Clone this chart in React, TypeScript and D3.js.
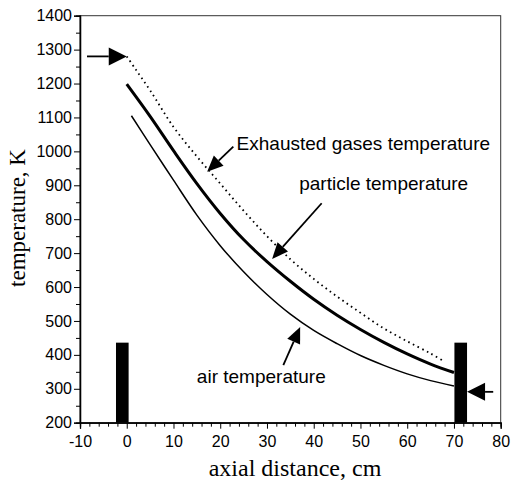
import React, { useRef, useEffect } from 'react';
import * as d3 from 'd3';

// axial distance (cm) vs temperature (K)
const gasX = [0, 2, 5, 10, 15, 20, 25, 30, 35, 40, 45, 50, 55, 60, 65, 68];
const gasT = [1280, 1240, 1180, 1072, 985, 905, 825, 750, 682, 624, 572, 524, 478, 440, 404, 380];

const particleX = [0, 5, 10, 15, 20, 25, 30, 35, 40, 45, 50, 55, 60, 65, 70];
const particleT = [1198, 1103, 1002, 905, 817, 740, 675, 617, 564, 517, 475, 437, 403, 373, 348];

const airX = [1, 5, 10, 15, 20, 25, 30, 35, 40, 45, 50, 55, 60, 65, 70];
const airT = [1105, 1020, 915, 812, 722, 645, 578, 520, 472, 433, 398, 369, 344, 324, 308];

// reactor walls (x from, x to, height)
const walls = [
  { x0: -2.3, x1: 0.4, top: 436 },
  { x0: 70.1, x1: 72.8, top: 436 },
];

const xTicks = [-10, 0, 10, 20, 30, 40, 50, 60, 70, 80];
const yTicks = [200, 300, 400, 500, 600, 700, 800, 900, 1000, 1100, 1200, 1300, 1400];

// label position and arrow from (ax, ay) to (tx, ty), in data units
const labels = [
  { text: 'Exhausted gases temperature', x: 23.5, y: 1005, ax: 22.8, ay: 1014, tx: 17.2, ty: 940 },
  { text: 'particle temperature', x: 36.9, y: 885, ax: 41.7, ay: 847, tx: 31.1, ty: 683 },
  { text: 'air temperature', x: 15.0, y: 318, ax: 33.5, ay: 370, tx: 37.1, ty: 482 },
];

// inlet gas / outlet air arrows
const flowArrows = [
  { ax: -8.5, ay: 1280, tx: 0, ty: 1280 },
  { ax: 78.4, ay: 291, tx: 72.8, ty: 291 },
];

function App() {
  const chartRef = useRef<SVGSVGElement>(null);

  useEffect(() => {
    const svg = d3.select(chartRef.current);
    svg.selectAll('*').remove();

    const width = 513, height = 482;
    svg.attr('width', width).attr('height', height);

    const x = d3.scaleLinear().domain([-10, 80]).range([80, 500.7]);
    const y = d3.scaleLinear().domain([200, 1400]).range([422.7, 15.7]);
    const sans = 'Liberation Sans, Arial, sans-serif';
    const serif = 'Liberation Serif, Times New Roman, serif';

    // line + filled triangular head
    const arrow = (x1: number, y1: number, x2: number, y2: number, len: number, half: number) => {
      const a = Math.atan2(y2 - y1, x2 - x1);
      const bx = x2 - len * Math.cos(a), by = y2 - len * Math.sin(a);
      svg.append('line')
        .attr('x1', x1).attr('y1', y1).attr('x2', bx).attr('y2', by)
        .attr('stroke', '#000').attr('stroke-width', 1.8);
      const px = -Math.sin(a) * half, py = Math.cos(a) * half;
      svg.append('path')
        .attr('d', `M${x2},${y2}L${bx + px},${by + py}L${bx - px},${by - py}Z`)
        .attr('fill', '#000');
    };

    // frame
    svg.append('rect')
      .attr('x', x(-10)).attr('y', y(1400))
      .attr('width', x(80) - x(-10)).attr('height', y(200) - y(1400))
      .attr('fill', 'none').attr('stroke', '#333').attr('stroke-width', 1);

    // axes
    const xMinor = d3.range(-10, 81, 2).filter((v) => v % 10 !== 0);
    const yMinor = d3.range(250, 1400, 100);

    const gx = svg.append('g').attr('transform', `translate(0,${y(200)})`);
    gx.call(d3.axisBottom(x).tickValues(xMinor).tickSize(4).tickFormat(() => ''));
    gx.append('g').call(d3.axisBottom(x).tickValues(xTicks).tickSize(6).tickPadding(7).tickFormat((d) => String(d)));
    gx.selectAll('.domain').attr('stroke', '#000').attr('stroke-width', 1.3);
    gx.selectAll('text').attr('font-family', sans).attr('font-size', 16).attr('fill', '#000');

    const gy = svg.append('g').attr('transform', `translate(${x(-10)},0)`);
    gy.call(d3.axisLeft(y).tickValues(yMinor).tickSize(4).tickFormat(() => ''));
    gy.append('g').call(d3.axisLeft(y).tickValues(yTicks).tickSize(6).tickPadding(2).tickFormat((d) => String(d)));
    gy.selectAll('.domain').attr('stroke', '#000').attr('stroke-width', 1.3);
    gy.selectAll('text').attr('font-family', sans).attr('font-size', 16).attr('fill', '#000');

    // walls
    svg.selectAll('.wall').data(walls).enter().append('rect')
      .attr('x', (d) => x(d.x0)).attr('y', (d) => y(d.top))
      .attr('width', (d) => x(d.x1) - x(d.x0)).attr('height', (d) => y(200) - y(d.top))
      .attr('fill', '#000');

    const line = d3.line<[number, number]>()
      .x((d) => x(d[0]))
      .y((d) => y(d[1]))
      .curve(d3.curveCatmullRom.alpha(0.5));

    svg.append('path')
      .datum(gasX.map((v, i) => [v, gasT[i]] as [number, number]))
      .attr('fill', 'none').attr('stroke', '#000')
      .attr('stroke-width', 1.8).attr('stroke-dasharray', '1.6,3.6')
      .attr('d', line);

    svg.append('path')
      .datum(particleX.map((v, i) => [v, particleT[i]] as [number, number]))
      .attr('fill', 'none').attr('stroke', '#000').attr('stroke-width', 3)
      .attr('d', line);

    svg.append('path')
      .datum(airX.map((v, i) => [v, airT[i]] as [number, number]))
      .attr('fill', 'none').attr('stroke', '#000').attr('stroke-width', 1.5)
      .attr('d', line);

    flowArrows.forEach((f) => arrow(x(f.ax), y(f.ay), x(f.tx), y(f.ty), 18, 9));

    // annotations
    labels.forEach((l) => {
      svg.append('text')
        .attr('x', x(l.x)).attr('y', y(l.y))
        .attr('font-family', sans).attr('font-size', 19)
        .text(l.text);
      arrow(x(l.ax), y(l.ay), x(l.tx), y(l.ty), 16, 7);
    });

    svg.append('text')
      .attr('x', 295).attr('y', 476)
      .attr('text-anchor', 'middle')
      .attr('font-family', serif).attr('font-size', 24)
      .text('axial distance, cm');

    svg.append('text')
      .attr('transform', 'rotate(-90)')
      .attr('x', -218).attr('y', 25)
      .attr('text-anchor', 'middle')
      .attr('font-family', serif).attr('font-size', 23)
      .text('temperature, K');
  }, []);

  return <svg ref={chartRef} style={{ position: 'absolute', left: 0, top: 0 }}></svg>;
}

export default App;
